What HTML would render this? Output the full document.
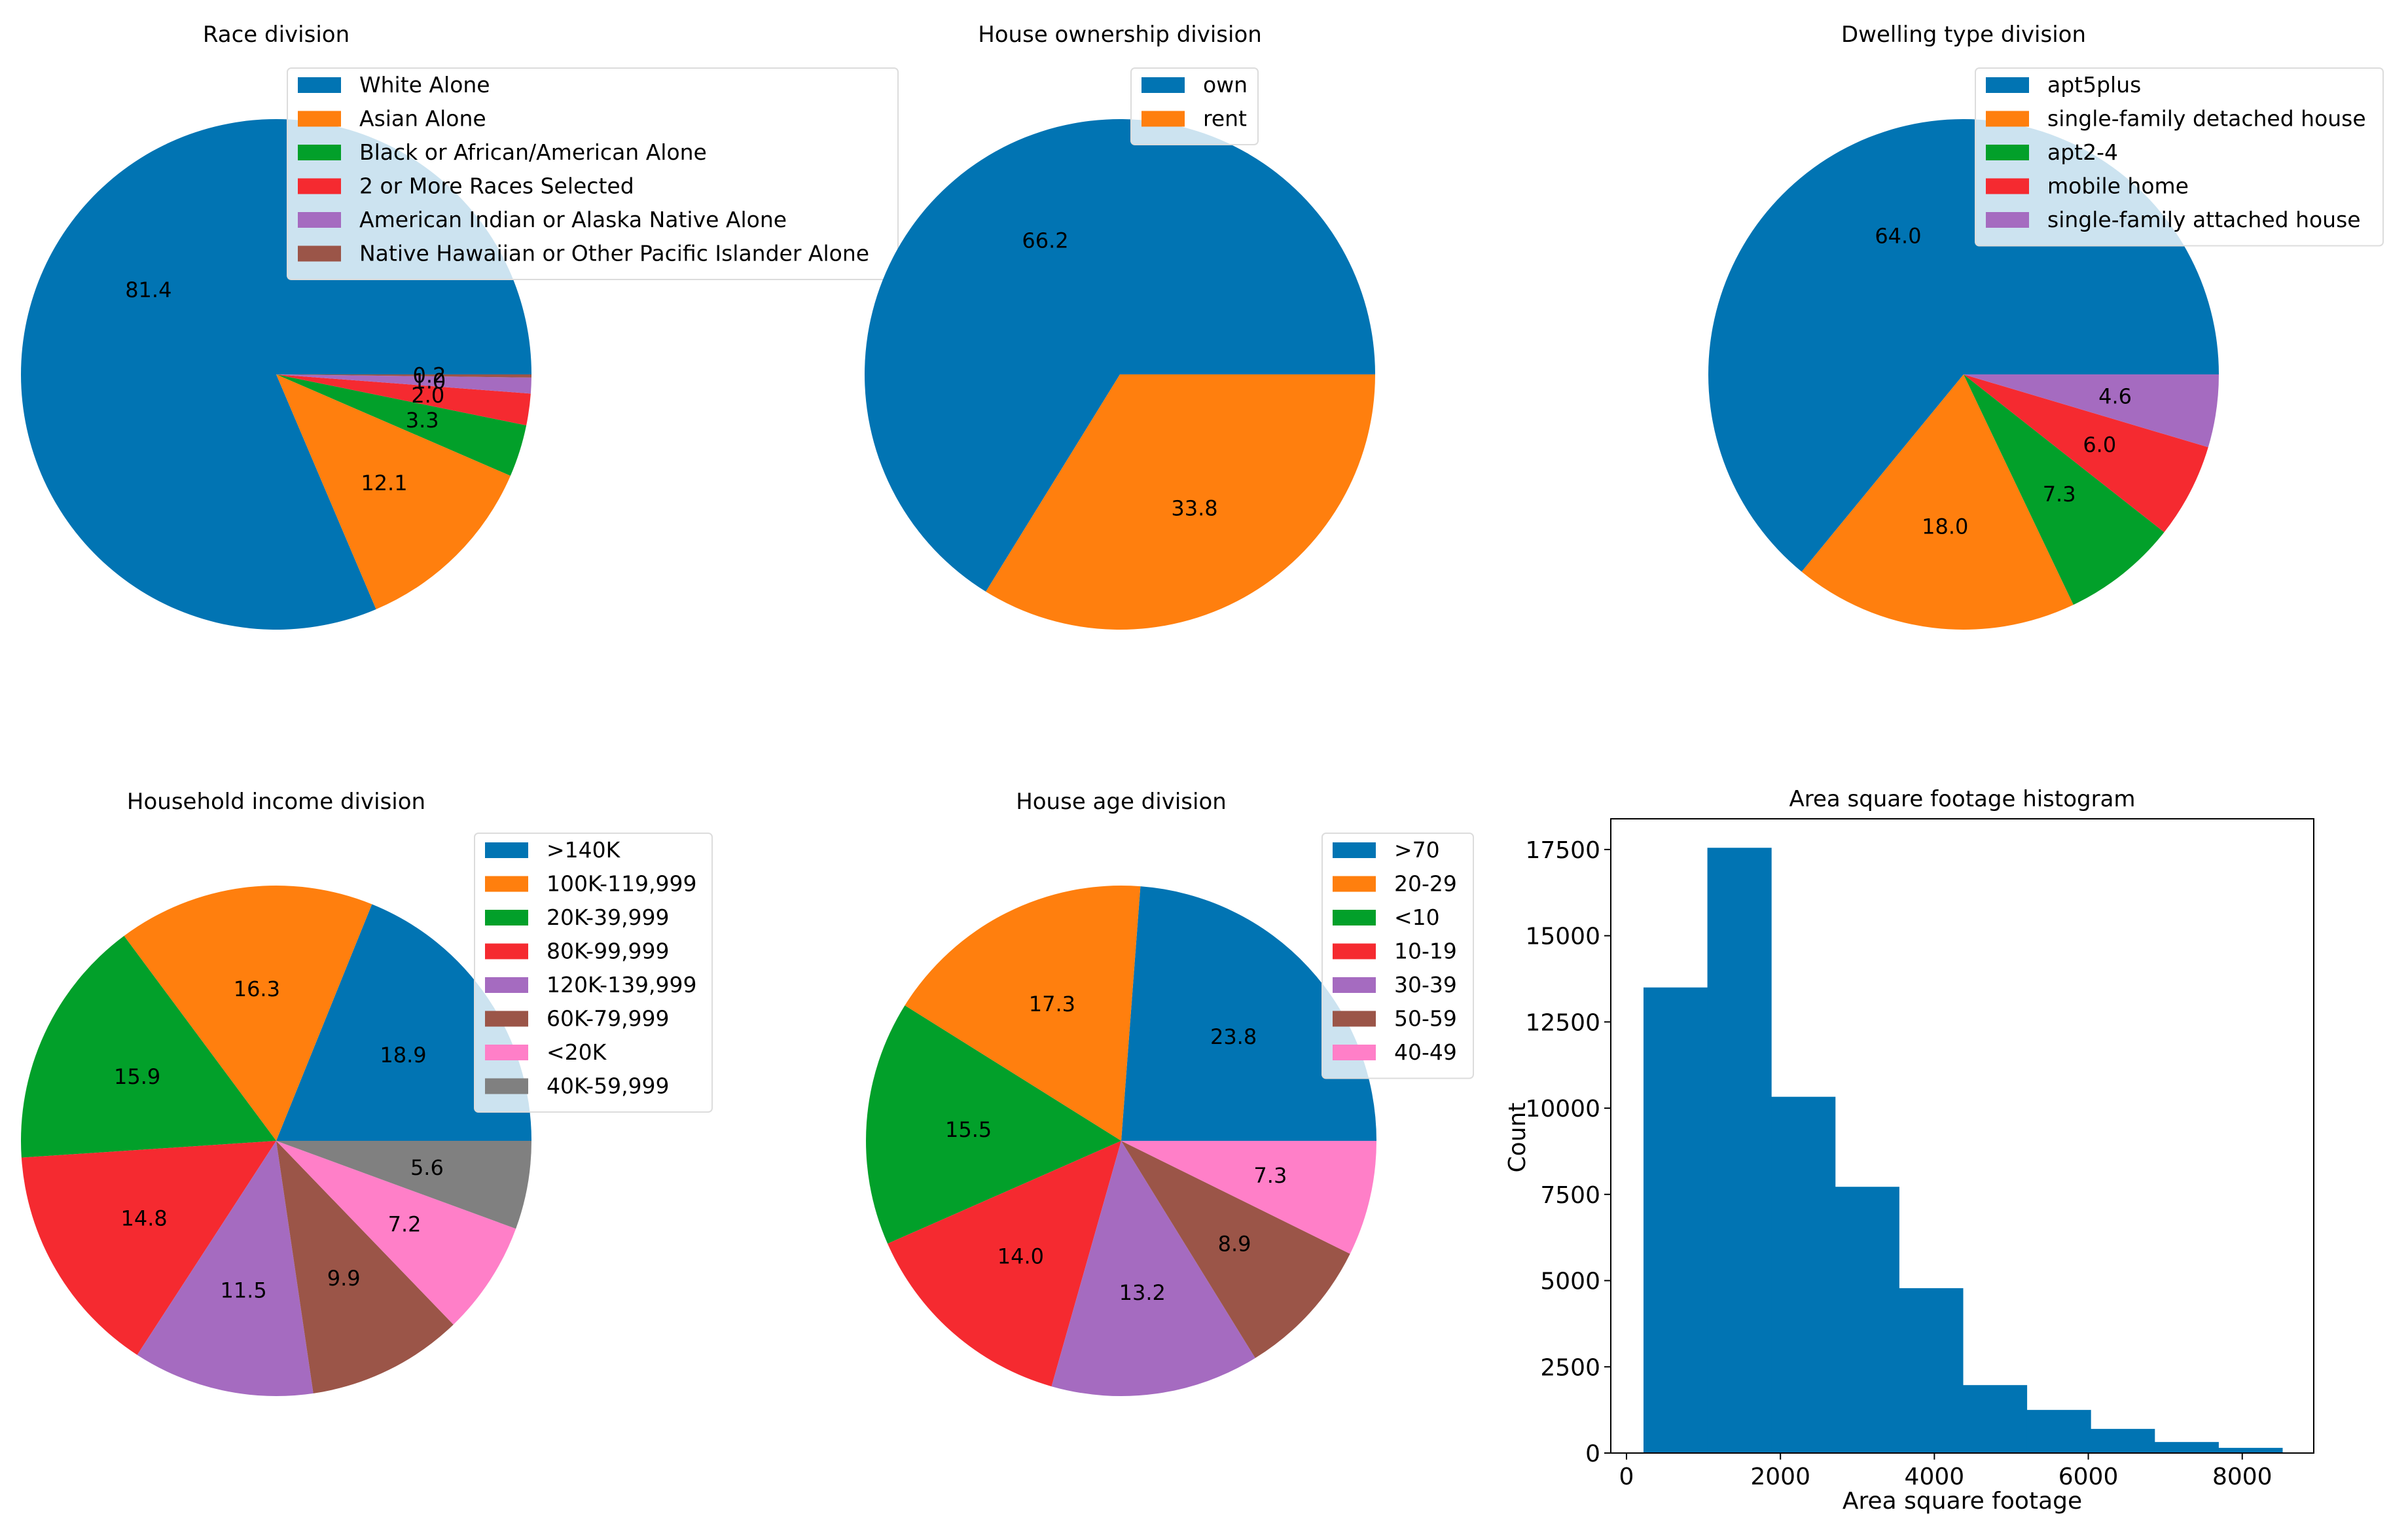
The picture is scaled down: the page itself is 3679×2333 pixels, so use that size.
<!DOCTYPE html>
<html><head><meta charset="utf-8"><style>
html,body{margin:0;padding:0;background:#fff;}
svg{display:block;font-family:"DejaVu Sans","Liberation Sans",sans-serif;}
</style></head><body>
<svg id="fig" width="3679" height="2333" viewBox="0 0 3679 2333" xmlns="http://www.w3.org/2000/svg"></svg>
<script>
const COLORS=['#0174b3','#ff7f0e','#02a02a','#f52a30','#a56bc0','#9b5548','#ff7fc8','#808080'];
const raceLabels=['White Alone','Asian Alone','Black or African/American Alone','2 or More Races Selected','American Indian or Alaska Native Alone','Native Hawaiian or Other Pacific Islander Alone'];
const raceValues=[81.4,12.1,3.3,2.0,1.0,0.2];
const ownLabels=['own','rent'];
const ownValues=[66.2,33.8];
const dwellLabels=['apt5plus','single-family detached house','apt2-4','mobile home','single-family attached house'];
const dwellValues=[64.0,18.0,7.3,6.0,4.6];
const incomeLabels=['>140K','100K-119,999','20K-39,999','80K-99,999','120K-139,999','60K-79,999','<20K','40K-59,999'];
const incomeValues=[18.9,16.3,15.9,14.8,11.5,9.9,7.2,5.6];
const ageLabels=['>70','20-29','<10','10-19','30-39','50-59','40-49'];
const ageValues=[23.8,17.3,15.5,14.0,13.2,8.9,7.3];
const histCounts=[13500,17550,10330,7720,4780,1970,1250,700,320,150];
const histStart=[221];
const histBinWidth=[830];
const histYTicks=[0,2500,5000,7500,10000,12500,15000,17500];
const histXTicks=[0,2000,4000,6000,8000];

const svg=document.getElementById('fig');
const NS='http://www.w3.org/2000/svg';
function mk(tag,attrs,parent){const e=document.createElementNS(NS,tag);for(const k in attrs)e.setAttribute(k,attrs[k]);(parent||svg).appendChild(e);return e;}
function txt(x,y,s,size,anchor,parent,extra){const t=mk('text',Object.assign({x:x,y:y,'font-size':size,'text-anchor':anchor||'middle',fill:'#000'},extra||{}),parent);t.textContent=s;return t;}

function pie(name,title,labels,values,cx,cy,r,legend){
  const g=mk('g',{});
  
  
  const tt=txt(cx,64+(cy>1000?1172:0),title,34,'middle',g);
  
  
  const total=values.reduce((a,b)=>a+b,0);
  let a0=0;
  const labs=[];
  values.forEach((v,i)=>{
    const a1=a0+v/total*360;
    const r0=a0*Math.PI/180,r1=a1*Math.PI/180;
    const x0=cx+r*Math.cos(r0),y0=cy-r*Math.sin(r0),x1=cx+r*Math.cos(r1),y1=cy-r*Math.sin(r1);
    const large=(a1-a0)>180?1:0;
    const p=mk('path',{d:`M${cx},${cy} L${x0},${y0} A${r},${r} 0 ${large} 0 ${x1},${y1} Z`,fill:COLORS[i]},g);
    
    
    const am=(a0+a1)/2*Math.PI/180;
    labs.push([cx+0.6*r*Math.cos(am),cy-0.6*r*Math.sin(am)+11,v.toFixed(1)]);
    a0=a1;
  });
  labs.forEach((l,i)=>{const t=txt(l[0],l[1],l[2],32,'middle',g);
    
    });
  const [lx,ly,lw]=legend;
  const lh=labels.length*51.5+14;
  const lg=mk('g',{},g);
  
  
  mk('rect',{x:lx,y:ly,width:lw,height:lh,rx:6,fill:'#fff','fill-opacity':0.8,stroke:'#dcdcdc','stroke-width':2},lg);
  labels.forEach((s,i)=>{
    const yy=ly+1+i*51.5;
    const sw=mk('rect',{x:lx+16,y:yy+13,width:66,height:24,fill:COLORS[i]},lg);
    
    
    const t=txt(lx+110,yy+36,s,33,'start',lg);
    
    
  });
}
pie('race','Race division',raceLabels,raceValues,422,572,390,[439,104,933]);
pie('ownership','House ownership division',ownLabels,ownValues,1711,572,390,[1728,104,194]);
pie('dwelling','Dwelling type division',dwellLabels,dwellValues,3000,572,390,[3018,104,623]);
pie('income','Household income division',incomeLabels,incomeValues,422,1743,390,[725,1273,363]);
pie('age','House age division',ageLabels,ageValues,1713,1743,390,[2020,1273,231]);

(function(){
  const L=2461,R=3535,T=1251,B=2220;
  const xMin=-204,xMax=8929,yMax=18390;
  const X=v=>L+(v-xMin)/(xMax-xMin)*(R-L);
  const Y=v=>B-v/yMax*(B-T);
  const g=mk('g',{});
  
  
  histCounts.forEach((c,i)=>{
    const x0=histStart[0]+i*histBinWidth[0],x1=x0+histBinWidth[0];
    const b=mk('rect',{x:X(x0),y:Y(c),width:X(x1)-X(x0)+0.5,height:B-Y(c),fill:'#0174b3'},g);
    
    
  });
  const fr=mk('rect',{x:L,y:T,width:R-L,height:B-T,fill:'none',stroke:'#000','stroke-width':2},g);
  
  
  histYTicks.forEach(v=>{
    mk('line',{x1:L-10,x2:L,y1:Y(v),y2:Y(v),stroke:'#000','stroke-width':2},g);
    const t=txt(L-16,Y(v)+13,String(v),36,'end',g);
    
    
  });
  histXTicks.forEach(v=>{
    mk('line',{x1:X(v),x2:X(v),y1:B,y2:B+10,stroke:'#000','stroke-width':2},g);
    const t=txt(X(v),B+48,String(v),36,'middle',g);
    
    
  });
  const ht=txt((L+R)/2,1232,'Area square footage histogram',34,'middle',g);
  
  
  const xl=txt((L+R)/2,2305,'Area square footage',36,'middle',g);
  
  
  const yl=txt(0,0,'Count',36,'middle',g,{transform:'translate(2330,1738) rotate(-90)'});
  
  
})();
</script>
</body></html>
